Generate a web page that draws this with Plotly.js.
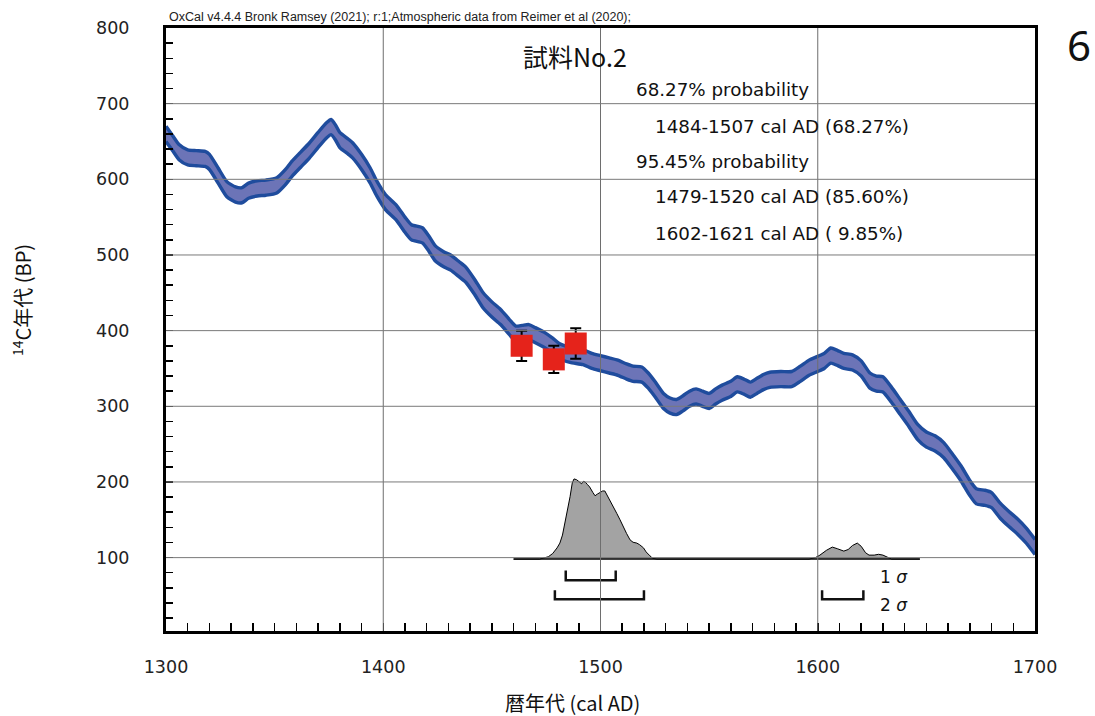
<!DOCTYPE html>
<html>
<head>
<meta charset="utf-8">
<script src="https://cdn.plot.ly/plotly-3.0.1.min.js"></script>
<style>html,body{margin:0;padding:0;background:#fff;}#chart{width:1095px;height:716px;}</style>
</head>
<body>
<div id="chart"></div>
<script>
// ---- Calibration curve (IntCal20 centre, BP) ----
const curveYears = [1300,1303,1306,1310,1314,1318,1320,1324,1328,1332,1335,1338,1342,1346,1351,1355,1358,1362,1366,1370,1374,1376,1378,1380,1384,1386,1390,1394,1397,1401,1406,1410,1413,1418,1421,1424,1428,1431,1435,1438,1442,1446,1450,1454,1458,1461,1464,1467,1470,1474,1478,1481,1486,1492,1496,1500,1504,1508,1512,1515,1519,1522,1525,1529,1532,1535,1538,1541,1544,1547,1550,1553,1556,1560,1563,1566,1569,1572,1575,1578,1583,1588,1592,1596,1600,1603,1606,1609,1612,1616,1620,1624,1627,1630,1634,1638,1642,1646,1650,1654,1658,1662,1666,1670,1673,1677,1680,1684,1688,1692,1696,1700];
const curveBP    = [660,648,636,629,628,627,623,605,587,580,579,585,588,589,592,603,614,626,638,652,665,669,662,652,643,638,623,605,588,570,556,540,530,526,515,502,494,490,481,474,458,440,428,418,405,396,397,398,394,388,380,373,368,365,360,357,354,351,346,343,342,334,323,307,301,299,304,310,313,310,307,313,318,323,329,326,322,327,332,335,336,336,343,351,356,360,367,364,360,358,350,334,330,329,315,299,283,266,256,251,242,227,211,192,181,179,176,162,151,141,129,114];
const curveError = 10;

// ---- Measured points ----
const pointYears = [1463.7, 1478.5, 1488.6];
const pointBP    = [380, 362, 383];
const pointErr   = [20, 18, 20];

// ---- Calibrated probability distribution (relative density) ----
const probYears = [1460,1472,1476,1478,1480,1481.3,1482.5,1483.6,1485,1486,1487,1487.8,1489,1490,1491.3,1492.2,1493,1494,1495,1496.5,1497.5,1498.5,1499.5,1501,1502,1503,1504.4,1506,1507.5,1509,1510.5,1512,1513.6,1515,1516.7,1518,1519.8,1521,1522.8,1524,1526,1596,1599,1601,1604,1606.7,1609,1612,1614,1616,1618.2,1620,1622,1623.6,1626,1628,1630,1632,1634,1647];
const probDens  = [0,0,0.03,0.07,0.14,0.2,0.3,0.45,0.62,0.78,0.95,1.0,0.99,0.97,0.94,0.97,0.96,0.93,0.9,0.83,0.79,0.81,0.83,0.85,0.85,0.8,0.74,0.66,0.57,0.49,0.4,0.32,0.24,0.21,0.2,0.18,0.14,0.09,0.04,0.01,0,0,0.02,0.05,0.11,0.15,0.13,0.1,0.12,0.17,0.2,0.16,0.08,0.05,0.05,0.06,0.05,0.02,0,0];

// ---- Ranges ----
const range1s = [[1484,1507]];
const range2s = [[1479,1520],[1602,1621]];

// ---- Axes / text ----
const xTicks = [1300,1400,1500,1600,1700];
const yTicks = [100,200,300,400,500,600,700,800];
const headerText = "OxCal v4.4.4 Bronk Ramsey (2021); r:1;Atmospheric data from Reimer et al (2020);";
const sampleName = "試料No.2";
const legendLines = ["68.27% probability","1484-1507 cal AD (68.27%)","95.45% probability","1479-1520 cal AD (85.60%)","1602-1621 cal AD ( 9.85%)"];
const xTitle = "暦年代 (cal AD)";
const yTitle = "<sup>14</sup>C年代 (BP)";
const pageNo = "6";

// ---- layout constants ----
const L = 166, R = 1035, T = 28, B = 631;
const px = v => (v - L) / (R - L);
const py = v => (B - v) / (B - T);
const probBase = 98, probScale = 106;
const s1Bar = 70, s1Top = 83, s2Bar = 45, s2Top = 57;

const upper = curveBP.map(v => v + curveError);
const lower = curveBP.map(v => v - curveError);
const bandBlue = '#1f4c9d', bandFill = '#6c74b7';

const traces = [];
traces.push({x: curveYears.concat(curveYears.slice().reverse()), y: upper.concat(lower.slice().reverse()),
  mode:'lines', fill:'toself', fillcolor: bandFill, line:{width:0, shape:'spline', smoothing:0.6}, hoverinfo:'skip'});
traces.push({x: curveYears, y: upper, mode:'lines', line:{color: bandBlue, width:3.4, shape:'spline', smoothing:0.6}});
traces.push({x: curveYears, y: lower, mode:'lines', line:{color: bandBlue, width:3.4, shape:'spline', smoothing:0.6}});
// distribution
traces.push({x: probYears, y: probDens.map(d => probBase + d*probScale), mode:'lines', fill:'toself',
  fillcolor:'#a3a3a3', line:{color:'#000', width:1}});
traces.push({x: [probYears[0], probYears[probYears.length-1]], y:[probBase, probBase], mode:'lines', line:{color:'#000', width:1.5}});
// brackets
range1s.forEach(r => traces.push({x:[r[0],r[0],r[1],r[1]], y:[s1Top,s1Bar,s1Bar,s1Top], mode:'lines', line:{color:'#111', width:2.5}}));
range2s.forEach(r => traces.push({x:[r[0],r[0],r[1],r[1]], y:[s2Top,s2Bar,s2Bar,s2Top], mode:'lines', line:{color:'#111', width:2.5}}));
// points
traces.push({x: pointYears, y: pointBP, mode:'markers', marker:{symbol:'square', size:22, color:'#e5231b', line:{width:0}},
  error_y:{type:'data', array: pointErr, visible:true, color:'#000', thickness:2, width:5.5}});

const shapes = [];
xTicks.slice(1,-1).forEach(v => shapes.push({type:'line', xref:'x', yref:'paper', x0:v, x1:v, y0:0, y1:1, layer:'above', line:{color:'#6e6e6e', width:1}}));
yTicks.slice(0,-1).forEach(v => shapes.push({type:'line', xref:'paper', yref:'y', x0:0, x1:1, y0:v, y1:v, layer:'above', line:{color:'#7a7a7a', width:1}}));

const latin = 'DejaVu Sans, sans-serif';
const cjk = 'Noto Sans CJK JP, sans-serif';
const ann = [];
ann.push({text: headerText, xref:'paper', yref:'paper', x: px(167), y: py(17), xanchor:'left', yanchor:'middle', showarrow:false, font:{family:'Liberation Sans, Arial, sans-serif', size:12.5, color:'#222'}});
ann.push({text: sampleName, xref:'paper', yref:'paper', x: px(521), y: py(56), xanchor:'left', yanchor:'middle', showarrow:false, font:{family:cjk, size:25, color:'#111'}});
const lx = [634,653,634,653,653], ly = [89,126,161,197,233];
legendLines.forEach((t,i) => ann.push({text:t, xref:'paper', yref:'paper', x:px(lx[i]), y:py(ly[i]), xanchor:'left', yanchor:'middle', showarrow:false, font:{family:latin, size:18.3, color:'#111'}}));
ann.push({text:'1 <i>σ</i>', xref:'paper', yref:'paper', x:px(878), y:py(577), xanchor:'left', yanchor:'middle', showarrow:false, font:{family:latin, size:17, color:'#111'}});
ann.push({text:'2 <i>σ</i>', xref:'paper', yref:'paper', x:px(878), y:py(605), xanchor:'left', yanchor:'middle', showarrow:false, font:{family:latin, size:17, color:'#111'}});
ann.push({text: xTitle, xref:'paper', yref:'paper', x:px(572), y:py(703), xanchor:'center', yanchor:'middle', showarrow:false, font:{family:cjk, size:20, color:'#111'}});
ann.push({text: yTitle, xref:'paper', yref:'paper', x:px(22), y:py(300), xanchor:'center', yanchor:'middle', textangle:-90, showarrow:false, font:{family:cjk, size:20, color:'#111'}});
ann.push({text: pageNo, xref:'paper', yref:'paper', x:px(1079), y:py(45), xanchor:'center', yanchor:'middle', showarrow:false, font:{family:'Noto Sans, sans-serif', size:42, color:'#111'}});

const layout = {
  width:1095, height:716, margin:{l:L, r:1095-R, t:T, b:716-B},
  paper_bgcolor:'#fff', plot_bgcolor:'#fff', showlegend:false,
  xaxis:{range:[1300,1700], tickvals:xTicks, ticks:'inside', ticklen:8, tickwidth:1.5, tickcolor:'#000',
    showgrid:false, zeroline:false, showline:true, linewidth:3, linecolor:'#000', mirror:true,
    minor:{dtick:10, ticks:'inside', ticklen:8, tickwidth:1.5, tickcolor:'#000', showgrid:false},
    tickfont:{family:latin, size:17.5, color:'#222'}, ticklabelstandoff:18},
  yaxis:{range:[3,800], tickvals:yTicks, ticks:'inside', ticklen:7, tickwidth:1.5, tickcolor:'#000',
    showgrid:false, zeroline:false, showline:true, linewidth:3, linecolor:'#000', mirror:true,
    minor:{dtick:20, ticks:'inside', ticklen:7, tickwidth:1.5, tickcolor:'#000', showgrid:false},
    tickfont:{family:latin, size:17.5, color:'#222'}, ticklabelstandoff:30},
  shapes: shapes, annotations: ann
};
Plotly.newPlot('chart', traces, layout, {displayModeBar:false, staticPlot:true});
</script>
</body>
</html>
